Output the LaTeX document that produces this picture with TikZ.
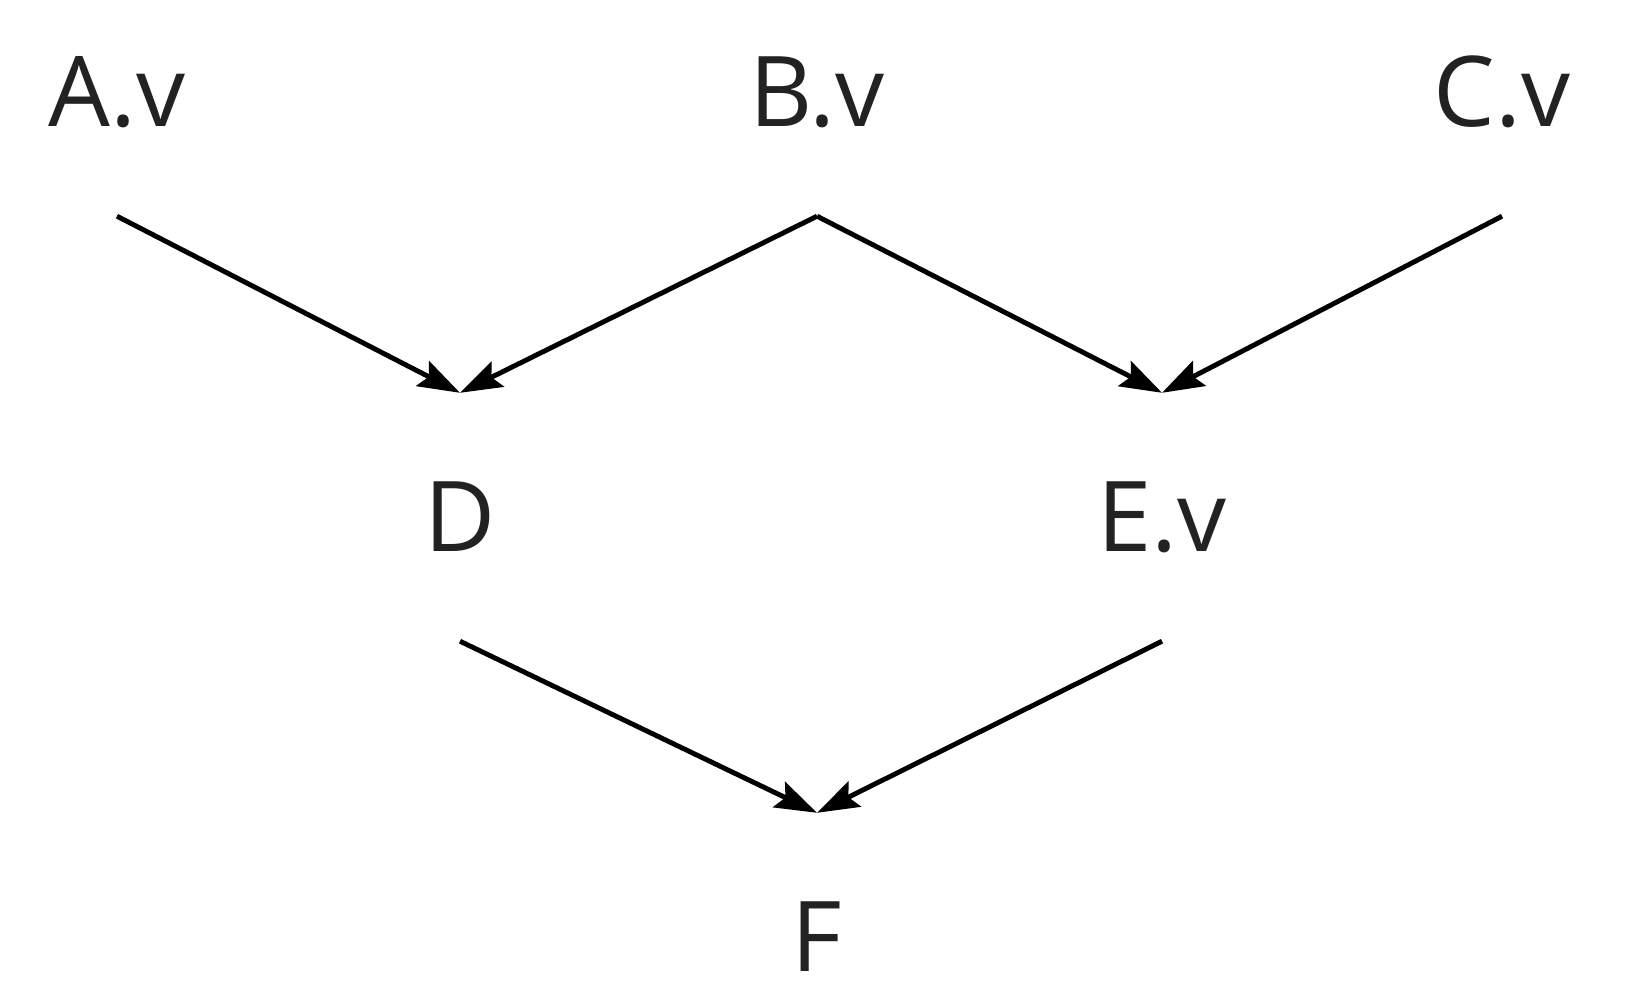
\documentclass[tikz,border=0pt]{standalone}
\usepackage{fontspec}
\setmainfont{Open Sans}
\usetikzlibrary{arrows.meta,positioning}
\definecolor{labelGrey}{HTML}{222222}

\begin{document}
\begin{tikzpicture}[
            var/.style={
                    rectangle,
                    inner sep=0pt,
                    minimum height=2.47cm,
                    text=labelGrey,
                    font=\fontsize{27.8pt}{33pt}\selectfont
                },
            arrow/.style={-{Stealth[length=0.42cm, width=0.28cm, inset=0.07cm]}, line width=1.4pt}
        ]
        \useasboundingbox (0,0) rectangle (16.38,10.01);
        \node[var] (a) at (1.17,9.09) {A.v};
        \node[var] (b) at (8.17,9.09) {B.v};
        \node[var] (c) at (15.02,9.09) {C.v};
        \node[var] (d) at (4.60,4.84) {D};
        \node[var] (e) at (11.62,4.84) {E.v};
        \node[var] (f) at (8.17,0.64) {F};

        \draw[arrow] (a.south) -- (d.north);
        \draw[arrow] (b.south) -- (d.north);
        \draw[arrow] (b.south) -- (e.north);
        \draw[arrow] (c.south) -- (e.north);
        \draw[arrow] (d.south) -- (f.north);
        \draw[arrow] (e.south) -- (f.north);
    \end{tikzpicture}
\end{document}
